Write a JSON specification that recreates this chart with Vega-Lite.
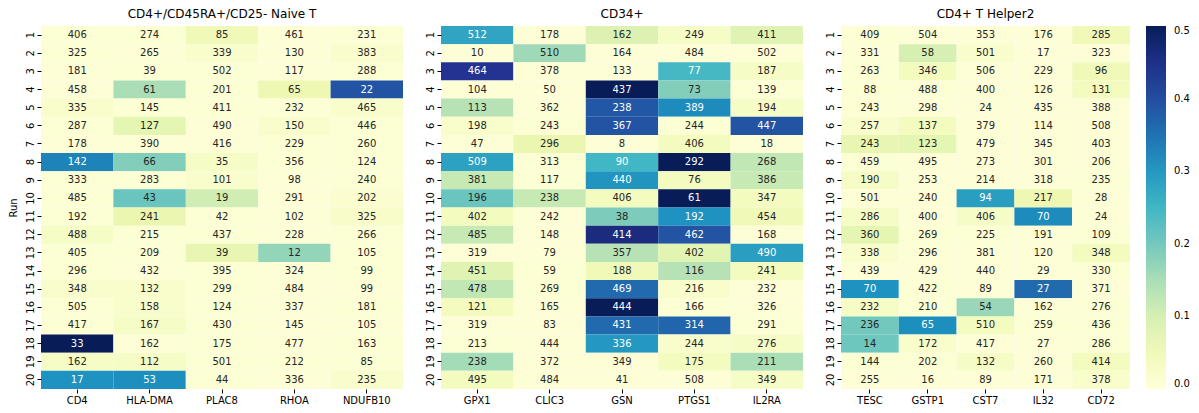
{
  "$schema": "https://vega.github.io/schema/vega-lite/v6.json",
  "background": "white",
  "padding": {"left": 8, "top": 8, "right": 5, "bottom": 5},
  "config": {
    "font": "DejaVu Sans",
    "view": {"stroke": null},
    "axis": {"domain": false, "grid": false, "tickColor": "#000", "tickSize": 4, "labelFontSize": 10, "labelColor": "#000", "titleFontSize": 10, "titleFontWeight": "normal", "titleColor": "#000", "labelPadding": 2},
    "title": {"fontSize": 12, "fontWeight": "normal", "offset": 5, "color": "#000"},
    "concat": {"spacing": 18},
    "legend": {"orient": "right", "offset": 16}
  },
  "datasets": {
    "d": [
      {"p":"A","g":"CD4","r":1,"n":406,"v":0.01},{"p":"A","g":"HLA-DMA","r":1,"n":274,"v":0.01},{"p":"A","g":"PLAC8","r":1,"n":85,"v":0.05},{"p":"A","g":"RHOA","r":1,"n":461,"v":0.005},{"p":"A","g":"NDUFB10","r":1,"n":231,"v":0.01},
      {"p":"A","g":"CD4","r":2,"n":325,"v":0.01},{"p":"A","g":"HLA-DMA","r":2,"n":265,"v":0.005},{"p":"A","g":"PLAC8","r":2,"n":339,"v":0.02},{"p":"A","g":"RHOA","r":2,"n":130,"v":0.005},{"p":"A","g":"NDUFB10","r":2,"n":383,"v":0.02},
      {"p":"A","g":"CD4","r":3,"n":181,"v":0.005},{"p":"A","g":"HLA-DMA","r":3,"n":39,"v":0.01},{"p":"A","g":"PLAC8","r":3,"n":502,"v":0.01},{"p":"A","g":"RHOA","r":3,"n":117,"v":0.005},{"p":"A","g":"NDUFB10","r":3,"n":288,"v":0.01},
      {"p":"A","g":"CD4","r":4,"n":458,"v":0.005},{"p":"A","g":"HLA-DMA","r":4,"n":61,"v":0.15},{"p":"A","g":"PLAC8","r":4,"n":201,"v":0.01},{"p":"A","g":"RHOA","r":4,"n":65,"v":0.06},{"p":"A","g":"NDUFB10","r":4,"n":22,"v":0.39},
      {"p":"A","g":"CD4","r":5,"n":335,"v":0.02},{"p":"A","g":"HLA-DMA","r":5,"n":145,"v":0.01},{"p":"A","g":"PLAC8","r":5,"n":411,"v":0.01},{"p":"A","g":"RHOA","r":5,"n":232,"v":0.01},{"p":"A","g":"NDUFB10","r":5,"n":465,"v":0.02},
      {"p":"A","g":"CD4","r":6,"n":287,"v":0.01},{"p":"A","g":"HLA-DMA","r":6,"n":127,"v":0.075},{"p":"A","g":"PLAC8","r":6,"n":490,"v":0.005},{"p":"A","g":"RHOA","r":6,"n":150,"v":0.02},{"p":"A","g":"NDUFB10","r":6,"n":446,"v":0.01},
      {"p":"A","g":"CD4","r":7,"n":178,"v":0.005},{"p":"A","g":"HLA-DMA","r":7,"n":390,"v":0.005},{"p":"A","g":"PLAC8","r":7,"n":416,"v":0.005},{"p":"A","g":"RHOA","r":7,"n":229,"v":0.01},{"p":"A","g":"NDUFB10","r":7,"n":260,"v":0.01},
      {"p":"A","g":"CD4","r":8,"n":142,"v":0.33},{"p":"A","g":"HLA-DMA","r":8,"n":66,"v":0.185},{"p":"A","g":"PLAC8","r":8,"n":35,"v":0.03},{"p":"A","g":"RHOA","r":8,"n":356,"v":0.01},{"p":"A","g":"NDUFB10","r":8,"n":124,"v":0.01},
      {"p":"A","g":"CD4","r":9,"n":333,"v":0.01},{"p":"A","g":"HLA-DMA","r":9,"n":283,"v":0.01},{"p":"A","g":"PLAC8","r":9,"n":101,"v":0.02},{"p":"A","g":"RHOA","r":9,"n":98,"v":0.005},{"p":"A","g":"NDUFB10","r":9,"n":240,"v":0.01},
      {"p":"A","g":"CD4","r":10,"n":485,"v":0.01},{"p":"A","g":"HLA-DMA","r":10,"n":43,"v":0.21},{"p":"A","g":"PLAC8","r":10,"n":19,"v":0.11},{"p":"A","g":"RHOA","r":10,"n":291,"v":0.005},{"p":"A","g":"NDUFB10","r":10,"n":202,"v":0.015},
      {"p":"A","g":"CD4","r":11,"n":192,"v":0.01},{"p":"A","g":"HLA-DMA","r":11,"n":241,"v":0.065},{"p":"A","g":"PLAC8","r":11,"n":42,"v":0.01},{"p":"A","g":"RHOA","r":11,"n":102,"v":0.005},{"p":"A","g":"NDUFB10","r":11,"n":325,"v":0.025},
      {"p":"A","g":"CD4","r":12,"n":488,"v":0.03},{"p":"A","g":"HLA-DMA","r":12,"n":215,"v":0.01},{"p":"A","g":"PLAC8","r":12,"n":437,"v":0.01},{"p":"A","g":"RHOA","r":12,"n":228,"v":0.005},{"p":"A","g":"NDUFB10","r":12,"n":266,"v":0.01},
      {"p":"A","g":"CD4","r":13,"n":405,"v":0.01},{"p":"A","g":"HLA-DMA","r":13,"n":209,"v":0.01},{"p":"A","g":"PLAC8","r":13,"n":39,"v":0.07},{"p":"A","g":"RHOA","r":13,"n":12,"v":0.17},{"p":"A","g":"NDUFB10","r":13,"n":105,"v":0.01},
      {"p":"A","g":"CD4","r":14,"n":296,"v":0.01},{"p":"A","g":"HLA-DMA","r":14,"n":432,"v":0.005},{"p":"A","g":"PLAC8","r":14,"n":395,"v":0.01},{"p":"A","g":"RHOA","r":14,"n":324,"v":0.005},{"p":"A","g":"NDUFB10","r":14,"n":99,"v":0.01},
      {"p":"A","g":"CD4","r":15,"n":348,"v":0.02},{"p":"A","g":"HLA-DMA","r":15,"n":132,"v":0.02},{"p":"A","g":"PLAC8","r":15,"n":299,"v":0.01},{"p":"A","g":"RHOA","r":15,"n":484,"v":0.005},{"p":"A","g":"NDUFB10","r":15,"n":99,"v":0.005},
      {"p":"A","g":"CD4","r":16,"n":505,"v":0.01},{"p":"A","g":"HLA-DMA","r":16,"n":158,"v":0.02},{"p":"A","g":"PLAC8","r":16,"n":124,"v":0.01},{"p":"A","g":"RHOA","r":16,"n":337,"v":0.005},{"p":"A","g":"NDUFB10","r":16,"n":181,"v":0.01},
      {"p":"A","g":"CD4","r":17,"n":417,"v":0.01},{"p":"A","g":"HLA-DMA","r":17,"n":167,"v":0.03},{"p":"A","g":"PLAC8","r":17,"n":430,"v":0.01},{"p":"A","g":"RHOA","r":17,"n":145,"v":0.005},{"p":"A","g":"NDUFB10","r":17,"n":105,"v":0.005},
      {"p":"A","g":"CD4","r":18,"n":33,"v":0.5},{"p":"A","g":"HLA-DMA","r":18,"n":162,"v":0.005},{"p":"A","g":"PLAC8","r":18,"n":175,"v":0.01},{"p":"A","g":"RHOA","r":18,"n":477,"v":0.005},{"p":"A","g":"NDUFB10","r":18,"n":163,"v":0.01},
      {"p":"A","g":"CD4","r":19,"n":162,"v":0.03},{"p":"A","g":"HLA-DMA","r":19,"n":112,"v":0.03},{"p":"A","g":"PLAC8","r":19,"n":501,"v":0.01},{"p":"A","g":"RHOA","r":19,"n":212,"v":0.01},{"p":"A","g":"NDUFB10","r":19,"n":85,"v":0.01},
      {"p":"A","g":"CD4","r":20,"n":17,"v":0.31},{"p":"A","g":"HLA-DMA","r":20,"n":53,"v":0.315},{"p":"A","g":"PLAC8","r":20,"n":44,"v":0.01},{"p":"A","g":"RHOA","r":20,"n":336,"v":0.005},{"p":"A","g":"NDUFB10","r":20,"n":235,"v":0.02},

      {"p":"B","g":"GPX1","r":1,"n":512,"v":0.28},{"p":"B","g":"CLIC3","r":1,"n":178,"v":0.005},{"p":"B","g":"GSN","r":1,"n":162,"v":0.09},{"p":"B","g":"PTGS1","r":1,"n":249,"v":0.03},{"p":"B","g":"IL2RA","r":1,"n":411,"v":0.085},
      {"p":"B","g":"GPX1","r":2,"n":10,"v":0.005},{"p":"B","g":"CLIC3","r":2,"n":510,"v":0.16},{"p":"B","g":"GSN","r":2,"n":164,"v":0.005},{"p":"B","g":"PTGS1","r":2,"n":484,"v":0.005},{"p":"B","g":"IL2RA","r":2,"n":502,"v":0.005},
      {"p":"B","g":"GPX1","r":3,"n":464,"v":0.44},{"p":"B","g":"CLIC3","r":3,"n":378,"v":0.005},{"p":"B","g":"GSN","r":3,"n":133,"v":0.005},{"p":"B","g":"PTGS1","r":3,"n":77,"v":0.245},{"p":"B","g":"IL2RA","r":3,"n":187,"v":0.03},
      {"p":"B","g":"GPX1","r":4,"n":104,"v":0.005},{"p":"B","g":"CLIC3","r":4,"n":50,"v":0.005},{"p":"B","g":"GSN","r":4,"n":437,"v":0.5},{"p":"B","g":"PTGS1","r":4,"n":73,"v":0.185},{"p":"B","g":"IL2RA","r":4,"n":139,"v":0.01},
      {"p":"B","g":"GPX1","r":5,"n":113,"v":0.14},{"p":"B","g":"CLIC3","r":5,"n":362,"v":0.005},{"p":"B","g":"GSN","r":5,"n":238,"v":0.385},{"p":"B","g":"PTGS1","r":5,"n":389,"v":0.32},{"p":"B","g":"IL2RA","r":5,"n":194,"v":0.03},
      {"p":"B","g":"GPX1","r":6,"n":198,"v":0.02},{"p":"B","g":"CLIC3","r":6,"n":243,"v":0.01},{"p":"B","g":"GSN","r":6,"n":367,"v":0.39},{"p":"B","g":"PTGS1","r":6,"n":244,"v":0.01},{"p":"B","g":"IL2RA","r":6,"n":447,"v":0.39},
      {"p":"B","g":"GPX1","r":7,"n":47,"v":0.005},{"p":"B","g":"CLIC3","r":7,"n":296,"v":0.065},{"p":"B","g":"GSN","r":7,"n":8,"v":0.005},{"p":"B","g":"PTGS1","r":7,"n":406,"v":0.04},{"p":"B","g":"IL2RA","r":7,"n":18,"v":0.005},
      {"p":"B","g":"GPX1","r":8,"n":509,"v":0.285},{"p":"B","g":"CLIC3","r":8,"n":313,"v":0.01},{"p":"B","g":"GSN","r":8,"n":90,"v":0.25},{"p":"B","g":"PTGS1","r":8,"n":292,"v":0.5},{"p":"B","g":"IL2RA","r":8,"n":268,"v":0.13},
      {"p":"B","g":"GPX1","r":9,"n":381,"v":0.125},{"p":"B","g":"CLIC3","r":9,"n":117,"v":0.01},{"p":"B","g":"GSN","r":9,"n":440,"v":0.305},{"p":"B","g":"PTGS1","r":9,"n":76,"v":0.04},{"p":"B","g":"IL2RA","r":9,"n":386,"v":0.125},
      {"p":"B","g":"GPX1","r":10,"n":196,"v":0.21},{"p":"B","g":"CLIC3","r":10,"n":238,"v":0.125},{"p":"B","g":"GSN","r":10,"n":406,"v":0.04},{"p":"B","g":"PTGS1","r":10,"n":61,"v":0.5},{"p":"B","g":"IL2RA","r":10,"n":347,"v":0.04},
      {"p":"B","g":"GPX1","r":11,"n":402,"v":0.04},{"p":"B","g":"CLIC3","r":11,"n":242,"v":0.005},{"p":"B","g":"GSN","r":11,"n":38,"v":0.19},{"p":"B","g":"PTGS1","r":11,"n":192,"v":0.31},{"p":"B","g":"IL2RA","r":11,"n":454,"v":0.05},
      {"p":"B","g":"GPX1","r":12,"n":485,"v":0.125},{"p":"B","g":"CLIC3","r":12,"n":148,"v":0.005},{"p":"B","g":"GSN","r":12,"n":414,"v":0.46},{"p":"B","g":"PTGS1","r":12,"n":462,"v":0.39},{"p":"B","g":"IL2RA","r":12,"n":168,"v":0.005},
      {"p":"B","g":"GPX1","r":13,"n":319,"v":0.005},{"p":"B","g":"CLIC3","r":13,"n":79,"v":0.005},{"p":"B","g":"GSN","r":13,"n":357,"v":0.14},{"p":"B","g":"PTGS1","r":13,"n":402,"v":0.08},{"p":"B","g":"IL2RA","r":13,"n":490,"v":0.29},
      {"p":"B","g":"GPX1","r":14,"n":451,"v":0.085},{"p":"B","g":"CLIC3","r":14,"n":59,"v":0.01},{"p":"B","g":"GSN","r":14,"n":188,"v":0.05},{"p":"B","g":"PTGS1","r":14,"n":116,"v":0.14},{"p":"B","g":"IL2RA","r":14,"n":241,"v":0.04},
      {"p":"B","g":"GPX1","r":15,"n":478,"v":0.13},{"p":"B","g":"CLIC3","r":15,"n":269,"v":0.01},{"p":"B","g":"GSN","r":15,"n":469,"v":0.36},{"p":"B","g":"PTGS1","r":15,"n":216,"v":0.02},{"p":"B","g":"IL2RA","r":15,"n":232,"v":0.005},
      {"p":"B","g":"GPX1","r":16,"n":121,"v":0.04},{"p":"B","g":"CLIC3","r":16,"n":165,"v":0.005},{"p":"B","g":"GSN","r":16,"n":444,"v":0.5},{"p":"B","g":"PTGS1","r":16,"n":166,"v":0.01},{"p":"B","g":"IL2RA","r":16,"n":326,"v":0.005},
      {"p":"B","g":"GPX1","r":17,"n":319,"v":0.005},{"p":"B","g":"CLIC3","r":17,"n":83,"v":0.005},{"p":"B","g":"GSN","r":17,"n":431,"v":0.36},{"p":"B","g":"PTGS1","r":17,"n":314,"v":0.365},{"p":"B","g":"IL2RA","r":17,"n":291,"v":0.01},
      {"p":"B","g":"GPX1","r":18,"n":213,"v":0.01},{"p":"B","g":"CLIC3","r":18,"n":444,"v":0.005},{"p":"B","g":"GSN","r":18,"n":336,"v":0.3},{"p":"B","g":"PTGS1","r":18,"n":244,"v":0.02},{"p":"B","g":"IL2RA","r":18,"n":276,"v":0.03},
      {"p":"B","g":"GPX1","r":19,"n":238,"v":0.155},{"p":"B","g":"CLIC3","r":19,"n":372,"v":0.005},{"p":"B","g":"GSN","r":19,"n":349,"v":0.005},{"p":"B","g":"PTGS1","r":19,"n":175,"v":0.04},{"p":"B","g":"IL2RA","r":19,"n":211,"v":0.15},
      {"p":"B","g":"GPX1","r":20,"n":495,"v":0.04},{"p":"B","g":"CLIC3","r":20,"n":484,"v":0.005},{"p":"B","g":"GSN","r":20,"n":41,"v":0.005},{"p":"B","g":"PTGS1","r":20,"n":508,"v":0.005},{"p":"B","g":"IL2RA","r":20,"n":349,"v":0.03},

      {"p":"C","g":"TESC","r":1,"n":409,"v":0.01},{"p":"C","g":"GSTP1","r":1,"n":504,"v":0.005},{"p":"C","g":"CST7","r":1,"n":353,"v":0.005},{"p":"C","g":"IL32","r":1,"n":176,"v":0.005},{"p":"C","g":"CD72","r":1,"n":285,"v":0.05},
      {"p":"C","g":"TESC","r":2,"n":331,"v":0.005},{"p":"C","g":"GSTP1","r":2,"n":58,"v":0.1},{"p":"C","g":"CST7","r":2,"n":501,"v":0.02},{"p":"C","g":"IL32","r":2,"n":17,"v":0.005},{"p":"C","g":"CD72","r":2,"n":323,"v":0.005},
      {"p":"C","g":"TESC","r":3,"n":263,"v":0.01},{"p":"C","g":"GSTP1","r":3,"n":346,"v":0.04},{"p":"C","g":"CST7","r":3,"n":506,"v":0.005},{"p":"C","g":"IL32","r":3,"n":229,"v":0.005},{"p":"C","g":"CD72","r":3,"n":96,"v":0.05},
      {"p":"C","g":"TESC","r":4,"n":88,"v":0.01},{"p":"C","g":"GSTP1","r":4,"n":488,"v":0.01},{"p":"C","g":"CST7","r":4,"n":400,"v":0.005},{"p":"C","g":"IL32","r":4,"n":126,"v":0.005},{"p":"C","g":"CD72","r":4,"n":131,"v":0.04},
      {"p":"C","g":"TESC","r":5,"n":243,"v":0.01},{"p":"C","g":"GSTP1","r":5,"n":298,"v":0.005},{"p":"C","g":"CST7","r":5,"n":24,"v":0.005},{"p":"C","g":"IL32","r":5,"n":435,"v":0.005},{"p":"C","g":"CD72","r":5,"n":388,"v":0.005},
      {"p":"C","g":"TESC","r":6,"n":257,"v":0.02},{"p":"C","g":"GSTP1","r":6,"n":137,"v":0.04},{"p":"C","g":"CST7","r":6,"n":379,"v":0.005},{"p":"C","g":"IL32","r":6,"n":114,"v":0.005},{"p":"C","g":"CD72","r":6,"n":508,"v":0.005},
      {"p":"C","g":"TESC","r":7,"n":243,"v":0.07},{"p":"C","g":"GSTP1","r":7,"n":123,"v":0.075},{"p":"C","g":"CST7","r":7,"n":479,"v":0.005},{"p":"C","g":"IL32","r":7,"n":345,"v":0.005},{"p":"C","g":"CD72","r":7,"n":403,"v":0.005},
      {"p":"C","g":"TESC","r":8,"n":459,"v":0.01},{"p":"C","g":"GSTP1","r":8,"n":495,"v":0.005},{"p":"C","g":"CST7","r":8,"n":273,"v":0.005},{"p":"C","g":"IL32","r":8,"n":301,"v":0.005},{"p":"C","g":"CD72","r":8,"n":206,"v":0.005},
      {"p":"C","g":"TESC","r":9,"n":190,"v":0.03},{"p":"C","g":"GSTP1","r":9,"n":253,"v":0.005},{"p":"C","g":"CST7","r":9,"n":214,"v":0.005},{"p":"C","g":"IL32","r":9,"n":318,"v":0.005},{"p":"C","g":"CD72","r":9,"n":235,"v":0.01},
      {"p":"C","g":"TESC","r":10,"n":501,"v":0.005},{"p":"C","g":"GSTP1","r":10,"n":240,"v":0.005},{"p":"C","g":"CST7","r":10,"n":94,"v":0.29},{"p":"C","g":"IL32","r":10,"n":217,"v":0.06},{"p":"C","g":"CD72","r":10,"n":28,"v":0.005},
      {"p":"C","g":"TESC","r":11,"n":286,"v":0.03},{"p":"C","g":"GSTP1","r":11,"n":400,"v":0.005},{"p":"C","g":"CST7","r":11,"n":406,"v":0.03},{"p":"C","g":"IL32","r":11,"n":70,"v":0.32},{"p":"C","g":"CD72","r":11,"n":24,"v":0.005},
      {"p":"C","g":"TESC","r":12,"n":360,"v":0.075},{"p":"C","g":"GSTP1","r":12,"n":269,"v":0.01},{"p":"C","g":"CST7","r":12,"n":225,"v":0.01},{"p":"C","g":"IL32","r":12,"n":191,"v":0.005},{"p":"C","g":"CD72","r":12,"n":109,"v":0.01},
      {"p":"C","g":"TESC","r":13,"n":338,"v":0.02},{"p":"C","g":"GSTP1","r":13,"n":296,"v":0.005},{"p":"C","g":"CST7","r":13,"n":381,"v":0.005},{"p":"C","g":"IL32","r":13,"n":120,"v":0.005},{"p":"C","g":"CD72","r":13,"n":348,"v":0.04},
      {"p":"C","g":"TESC","r":14,"n":439,"v":0.005},{"p":"C","g":"GSTP1","r":14,"n":429,"v":0.005},{"p":"C","g":"CST7","r":14,"n":440,"v":0.005},{"p":"C","g":"IL32","r":14,"n":29,"v":0.005},{"p":"C","g":"CD72","r":14,"n":330,"v":0.01},
      {"p":"C","g":"TESC","r":15,"n":70,"v":0.31},{"p":"C","g":"GSTP1","r":15,"n":422,"v":0.01},{"p":"C","g":"CST7","r":15,"n":89,"v":0.005},{"p":"C","g":"IL32","r":15,"n":27,"v":0.36},{"p":"C","g":"CD72","r":15,"n":371,"v":0.005},
      {"p":"C","g":"TESC","r":16,"n":232,"v":0.03},{"p":"C","g":"GSTP1","r":16,"n":210,"v":0.01},{"p":"C","g":"CST7","r":16,"n":54,"v":0.165},{"p":"C","g":"IL32","r":16,"n":162,"v":0.005},{"p":"C","g":"CD72","r":16,"n":276,"v":0.01},
      {"p":"C","g":"TESC","r":17,"n":236,"v":0.2},{"p":"C","g":"GSTP1","r":17,"n":65,"v":0.315},{"p":"C","g":"CST7","r":17,"n":510,"v":0.04},{"p":"C","g":"IL32","r":17,"n":259,"v":0.01},{"p":"C","g":"CD72","r":17,"n":436,"v":0.01},
      {"p":"C","g":"TESC","r":18,"n":14,"v":0.205},{"p":"C","g":"GSTP1","r":18,"n":172,"v":0.02},{"p":"C","g":"CST7","r":18,"n":417,"v":0.005},{"p":"C","g":"IL32","r":18,"n":27,"v":0.005},{"p":"C","g":"CD72","r":18,"n":286,"v":0.01},
      {"p":"C","g":"TESC","r":19,"n":144,"v":0.01},{"p":"C","g":"GSTP1","r":19,"n":202,"v":0.01},{"p":"C","g":"CST7","r":19,"n":132,"v":0.03},{"p":"C","g":"IL32","r":19,"n":260,"v":0.005},{"p":"C","g":"CD72","r":19,"n":414,"v":0.04},
      {"p":"C","g":"TESC","r":20,"n":255,"v":0.005},{"p":"C","g":"GSTP1","r":20,"n":16,"v":0.005},{"p":"C","g":"CST7","r":20,"n":89,"v":0.005},{"p":"C","g":"IL32","r":20,"n":171,"v":0.005},{"p":"C","g":"CD72","r":20,"n":378,"v":0.02}
    ]
  },
  "hconcat": [
    {
      "title": "CD4+/CD45RA+/CD25- Naive T",
      "width": 362, "height": 363,
      "data": {"name": "d"},
      "transform": [{"filter": "datum.p == 'A'"}],
      "encoding": {
        "x": {"field": "g", "type": "nominal", "sort": ["CD4","HLA-DMA","PLAC8","RHOA","NDUFB10"], "scale": {"paddingInner": 0, "paddingOuter": 0}, "axis": {"title": null, "labelAngle": 0}},
        "y": {"field": "r", "type": "ordinal", "scale": {"paddingInner": 0, "paddingOuter": 0}, "axis": {"title": "Run", "titlePadding": 3, "labelAngle": 270, "minExtent": 20, "maxExtent": 20}}
      },
      "layer": [
        {"mark": {"type": "rect"}, "encoding": {"color": {"field": "v", "type": "quantitative",
          "scale": {"type": "linear", "domain": [0,0.0625,0.125,0.1875,0.25,0.3125,0.375,0.4375,0.5], "range": ["#ffffd9","#edf8b1","#c7e9b4","#7fcdbb","#41b6c4","#1d91c0","#225ea8","#253494","#081d58"], "interpolate": "rgb", "clamp": true},
          "legend": {"title": null, "direction": "vertical", "gradientLength": 363, "gradientThickness": 20, "gradientStrokeWidth": 0, "values": [0,0.1,0.2,0.3,0.4,0.5], "format": ".1f", "labelFontSize": 10, "labelColor": "#000", "labelOffset": 8, "labelBaseline": "middle"}}}},
        {"mark": {"type": "text", "fontSize": 10}, "encoding": {"text": {"field": "n", "type": "quantitative"}, "color": {"condition": {"test": "datum.v > 0.235", "value": "#ffffff"}, "value": "#262626"}}}
      ]
    },
    {
      "title": "CD34+",
      "width": 362, "height": 363,
      "data": {"name": "d"},
      "transform": [{"filter": "datum.p == 'B'"}],
      "encoding": {
        "x": {"field": "g", "type": "nominal", "sort": ["GPX1","CLIC3","GSN","PTGS1","IL2RA"], "scale": {"paddingInner": 0, "paddingOuter": 0}, "axis": {"title": null, "labelAngle": 0}},
        "y": {"field": "r", "type": "ordinal", "scale": {"paddingInner": 0, "paddingOuter": 0}, "axis": {"title": null, "labelAngle": 270, "minExtent": 20, "maxExtent": 20}}
      },
      "layer": [
        {"mark": {"type": "rect"}, "encoding": {"color": {"field": "v", "type": "quantitative",
          "scale": {"type": "linear", "domain": [0,0.0625,0.125,0.1875,0.25,0.3125,0.375,0.4375,0.5], "range": ["#ffffd9","#edf8b1","#c7e9b4","#7fcdbb","#41b6c4","#1d91c0","#225ea8","#253494","#081d58"], "interpolate": "rgb", "clamp": true},
          "legend": {"title": null, "direction": "vertical", "gradientLength": 363, "gradientThickness": 20, "gradientStrokeWidth": 0, "values": [0,0.1,0.2,0.3,0.4,0.5], "format": ".1f", "labelFontSize": 10, "labelColor": "#000", "labelOffset": 8, "labelBaseline": "middle"}}}},
        {"mark": {"type": "text", "fontSize": 10}, "encoding": {"text": {"field": "n", "type": "quantitative"}, "color": {"condition": {"test": "datum.v > 0.235", "value": "#ffffff"}, "value": "#262626"}}}
      ]
    },
    {
      "title": "CD4+ T Helper2",
      "width": 289, "height": 363,
      "data": {"name": "d"},
      "transform": [{"filter": "datum.p == 'C'"}],
      "encoding": {
        "x": {"field": "g", "type": "nominal", "sort": ["TESC","GSTP1","CST7","IL32","CD72"], "scale": {"paddingInner": 0, "paddingOuter": 0}, "axis": {"title": null, "labelAngle": 0}},
        "y": {"field": "r", "type": "ordinal", "scale": {"paddingInner": 0, "paddingOuter": 0}, "axis": {"title": null, "labelAngle": 270, "minExtent": 20, "maxExtent": 20}}
      },
      "layer": [
        {"mark": {"type": "rect"}, "encoding": {"color": {"field": "v", "type": "quantitative",
          "scale": {"type": "linear", "domain": [0,0.0625,0.125,0.1875,0.25,0.3125,0.375,0.4375,0.5], "range": ["#ffffd9","#edf8b1","#c7e9b4","#7fcdbb","#41b6c4","#1d91c0","#225ea8","#253494","#081d58"], "interpolate": "rgb", "clamp": true},
          "legend": {"title": null, "direction": "vertical", "gradientLength": 363, "gradientThickness": 20, "gradientStrokeWidth": 0, "values": [0,0.1,0.2,0.3,0.4,0.5], "format": ".1f", "labelFontSize": 10, "labelColor": "#000", "labelOffset": 8, "labelBaseline": "middle"}}}},
        {"mark": {"type": "text", "fontSize": 10}, "encoding": {"text": {"field": "n", "type": "quantitative"}, "color": {"condition": {"test": "datum.v > 0.235", "value": "#ffffff"}, "value": "#262626"}}}
      ]
    }
  ],
  "resolve": {"scale": {"color": "shared"}}
}
